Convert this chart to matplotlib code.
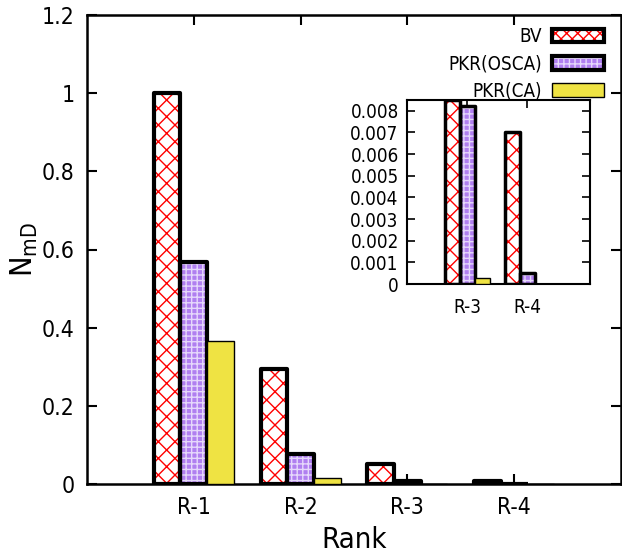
import matplotlib
matplotlib.use("Agg")
import matplotlib.pyplot as plt
from matplotlib.patches import Patch
from matplotlib.ticker import FuncFormatter, FixedLocator
import numpy as np

plt.rcParams['font.family'] = ['DejaVu Sans']
plt.rcParams['font.stretch'] = 'condensed'
plt.rcParams['hatch.linewidth'] = 1.0

ranks = ["R-1", "R-2", "R-3", "R-4"]
series = ["BV", "PKR(OSCA)", "PKR(CA)"]
bv = [1.0, 0.295, 0.050, 0.0070]
osca = [0.568, 0.078, 0.0082, 0.0005]
ca = [0.366, 0.016, 0.0003, 0.00002]

main_yticks = [0, 0.2, 0.4, 0.6, 0.8, 1.0, 1.2]
inset_yticks = [0, 0.001, 0.002, 0.003, 0.004, 0.005, 0.006, 0.007, 0.008]

red = '#ff0000'
purple = '#b07ff0'
purple_light = '#e6d8fb'
yellow = '#efe343'

W, H = 622, 554
fig = plt.figure(figsize=(W / 100, H / 100), dpi=100)

def draw_bars(ax, idx_sel, bar_lw, ytop):
    x = np.arange(1, len(ranks) + 1)
    width = 0.25
    xs = x[idx_sel]
    vals = [np.minimum(np.array(s)[idx_sel], ytop) for s in (bv, osca, ca)]
    offs = [-width, 0, width]
    ax.bar(xs + offs[0], vals[0], width, facecolor='white', edgecolor=red,
           hatch='xx', linewidth=0, zorder=2)
    ax.bar(xs + offs[0], vals[0], width, facecolor='none', edgecolor='black',
           linewidth=bar_lw, zorder=3, joinstyle='round')
    ax.bar(xs + offs[1], vals[1], width, facecolor=purple, edgecolor=purple_light,
           hatch='+++', linewidth=0, zorder=2)
    ax.bar(xs + offs[1], vals[1], width, facecolor='none', edgecolor='black',
           linewidth=bar_lw, zorder=3, joinstyle='round')
    ax.bar(xs + offs[2], vals[2], width, facecolor=yellow, edgecolor='black',
           linewidth=1.0, zorder=3)

def fmt(v, pos):
    return '%g' % v

# main axes
ax = fig.add_axes([87 / W, 1 - 484 / H, (621 - 87) / W, (484 - 15) / H])
draw_bars(ax, np.arange(4), 3.0, 1.2)
ax.set_xlim(0, 5)
ax.set_ylim(0, 1.2)
ax.set_xticks(np.arange(1, 5))
ax.set_xticklabels(ranks)
ax.yaxis.set_major_locator(FixedLocator(main_yticks))
ax.yaxis.set_major_formatter(FuncFormatter(fmt))
ax.tick_params(direction='in', length=7, width=1.5, top=True, right=True,
               labelsize=16.5, pad=9)
for s in ax.spines.values():
    s.set_linewidth(1.8)
ax.set_xlabel('Rank', fontsize=21, labelpad=5)
ax.set_ylabel(r'$\mathregular{N_{mD}}$', fontsize=22, labelpad=1)

h_bv = (Patch(facecolor='white', edgecolor=red, hatch='xxx', linewidth=0),
        Patch(facecolor='none', edgecolor='black', linewidth=3.0))
h_os = (Patch(facecolor=purple, edgecolor=purple_light, hatch='+++', linewidth=0),
        Patch(facecolor='none', edgecolor='black', linewidth=3.0))
h_ca = Patch(facecolor=yellow, edgecolor='black', linewidth=1.0)
leg = ax.legend([h_bv, h_os, h_ca], series, loc='upper right',
                bbox_to_anchor=(604 / W, 1 - 27 / H), bbox_transform=fig.transFigure,
                frameon=False, markerfirst=False, fontsize=13.5,
                handlelength=2.8, handleheight=0.75, labelspacing=0.45,
                handletextpad=0.5, borderpad=0, borderaxespad=0)
for t in leg.get_texts():
    t.set_ha('right')

# inset
axi = fig.add_axes([407 / W, 1 - 284 / H, (590 - 407) / W, (284 - 100) / H])
draw_bars(axi, np.array([2, 3]), 2.5, 0.0085)
axi.set_xlim(2, 5.05)
axi.set_ylim(0, 0.0085)
axi.set_xticks([3, 4])
axi.set_xticklabels(ranks[2:])
axi.yaxis.set_major_locator(FixedLocator(inset_yticks))
axi.yaxis.set_major_formatter(FuncFormatter(fmt))
axi.tick_params(direction='in', length=6, width=1.2, top=True, right=True,
                labelsize=13.5, pad=6)
axi.tick_params(axis='x', pad=10)
for s in axi.spines.values():
    s.set_linewidth(1.5)

fig.savefig('out.png', dpi=100)
